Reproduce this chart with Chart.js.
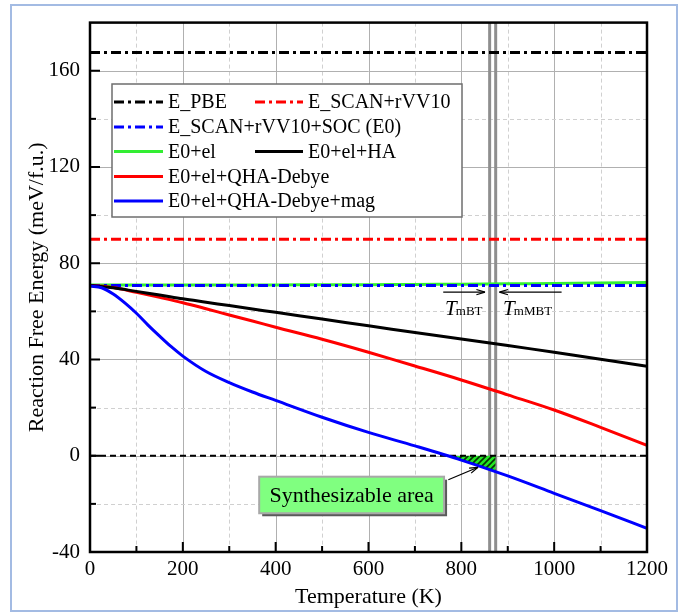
<!DOCTYPE html>
<html><head><meta charset="utf-8">
<script src="https://cdn.jsdelivr.net/npm/chart.js@4/dist/chart.umd.min.js"></script>
<style>html,body{margin:0;padding:0;background:#fff}#wrap{width:695px;height:614px;position:relative}</style>
</head><body><div id="wrap"><canvas id="c" width="695" height="614"></canvas></div>
<script>
// ---- data ----
const temperature = [0,50,100,150,200,250,300,350,400,500,600,700,800,900,1000,1100,1200];
const e0el        = [71.0,71.0,71.0,71.0,71.0,71.0,71.0,71.0,71.0,71.05,71.1,71.2,71.3,71.45,71.6,71.8,72.0];
const e0elHA      = [70.8,69.8,68.3,66.8,65.2,63.8,62.4,61.0,59.6,56.8,54.0,51.2,48.5,45.8,43.0,40.1,37.2];
const e0elQHA     = [70.8,69.9,67.9,65.8,63.6,61.1,58.5,56.0,53.4,48.4,43.0,37.3,31.5,25.3,19.0,11.8,4.3];
const tempMag     = [0,25,50,75,100,125,150,175,200,250,300,350,400,500,600,700,800,900,1000,1100,1200];
const e0elQHAmag  = [70.5,69.8,67.2,63.5,59.2,54.3,49.7,45.3,41.4,35.0,30.4,26.5,23.0,16.0,9.7,4.1,-1.8,-8.4,-15.6,-22.8,-30.2];
const constT      = [0,1200];
const ePBE  = 167.6;
const eSCAN = 90.0;
const eSOC  = 70.7;
const zeroLevel = 0;
const hatchT = [778,800,874];
const hatchE = [0,-1.8,-6.6];
const tmBT = 861, tmMBT = 874;
const legendLabels = ['E_PBE','E_SCAN+rVV10','E_SCAN+rVV10+SOC (E0)','E0+el','E0+el+HA','E0+el+QHA-Debye','E0+el+QHA-Debye+mag'];
const xTitle = 'Temperature (K)';
const yTitle = 'Reaction Free Energy (meV/f.u.)';
const boxText = 'Synthesizable area';

const FONT = "'Liberation Serif','Times New Roman',serif";
const pts = (xs, ys) => xs.map((x,i)=>({x, y: ys[i]}));
const flat = (v) => constT.map(x=>({x, y:v}));

// hatch pattern
const pc = document.createElement('canvas'); pc.width = 6; pc.height = 6;
const pctx = pc.getContext('2d');
pctx.fillStyle = '#22e622'; pctx.fillRect(0,0,6,6);
pctx.strokeStyle = '#063006'; pctx.lineWidth = 1.6;
pctx.beginPath(); pctx.moveTo(-1,7); pctx.lineTo(7,-1); pctx.moveTo(-1,1); pctx.lineTo(1,-1); pctx.moveTo(5,7); pctx.lineTo(7,5); pctx.stroke();
const hatchPattern = pctx.createPattern(pc,'repeat');

const DD = [10,4,3,4];
const datasets = [
  {label:legendLabels[0], data:flat(ePBE), borderColor:'#000', borderWidth:3, borderDash:DD, order:5, tension:0},
  {label:legendLabels[1], data:flat(eSCAN), borderColor:'#ff0000', borderWidth:3, borderDash:DD, order:5, tension:0},
  {label:legendLabels[2], data:flat(eSOC), borderColor:'#0000ff', borderWidth:3, borderDash:DD, order:3, tension:0},
  {label:legendLabels[3], data:pts(temperature,e0el), borderColor:'#33ee33', borderWidth:3, order:4},
  {label:legendLabels[4], data:pts(temperature,e0elHA), borderColor:'#000', borderWidth:3, order:2},
  {label:legendLabels[5], data:pts(temperature,e0elQHA), borderColor:'#ff0000', borderWidth:3, order:2},
  {label:legendLabels[6], data:pts(tempMag,e0elQHAmag), borderColor:'#0000ff', borderWidth:3, order:1, cubicInterpolationMode:'monotone'},
  {label:'zero', data:flat(zeroLevel), borderColor:'#000', borderWidth:2, borderDash:[6,4], order:6, tension:0},
  {label:'hatch', data:pts(hatchT,hatchE), borderColor:'rgba(0,0,0,0)', borderWidth:0, backgroundColor:hatchPattern, fill:'origin', order:7, tension:0},
  {label:'TmBT', data:[{x:tmBT,y:-40},{x:tmBT,y:180}], borderColor:'#8e8e8e', borderWidth:3, order:8, tension:0},
  {label:'TmMBT', data:[{x:tmMBT,y:-40},{x:tmMBT,y:180}], borderColor:'#8e8e8e', borderWidth:3, order:8, tension:0}
];
datasets.forEach(d=>{ d.pointRadius=0; d.pointHoverRadius=0; if(d.fill===undefined) d.fill=false; if(d.tension===undefined) d.tension=0.35; });

function arrow(ctx,x1,y1,x2,y2){
  ctx.beginPath(); ctx.moveTo(x1,y1); ctx.lineTo(x2,y2); ctx.stroke();
  const a = Math.atan2(y2-y1,x2-x1), L=9, s=0.3;
  ctx.beginPath();
  ctx.moveTo(x2,y2); ctx.lineTo(x2-L*Math.cos(a-s), y2-L*Math.sin(a-s));
  ctx.moveTo(x2,y2); ctx.lineTo(x2-L*Math.cos(a+s), y2-L*Math.sin(a+s));
  ctx.stroke();
}

const deco = {
  id:'deco',
  beforeDraw(chart){
    const ctx = chart.ctx;
    ctx.save();
    ctx.fillStyle='#fff'; ctx.fillRect(0,0,chart.width,chart.height);
    ctx.strokeStyle='#a3bbe3'; ctx.lineWidth=2; ctx.strokeRect(11,5,666,606);
    ctx.restore();
  },
  beforeDatasetsDraw(chart){
    const {ctx, chartArea:a, scales:{x,y}} = chart;
    ctx.save(); ctx.lineWidth=1;
    for(let v=100; v<1200; v+=100){
      const px = Math.round(x.getPixelForValue(v))+0.5, major = v%200===0;
      ctx.strokeStyle = major?'#b0b0b0':'#d0d0d0'; ctx.setLineDash(major?[]:[4,3]);
      ctx.beginPath(); ctx.moveTo(px,a.top); ctx.lineTo(px,a.bottom); ctx.stroke();
    }
    for(let v=-20; v<180; v+=20){
      const py = Math.round(y.getPixelForValue(v))+0.5, major = v%40===0;
      ctx.strokeStyle = major?'#b0b0b0':'#d0d0d0'; ctx.setLineDash(major?[]:[4,3]);
      ctx.beginPath(); ctx.moveTo(a.left,py); ctx.lineTo(a.right,py); ctx.stroke();
    }
    ctx.restore();
  },
  afterDatasetsDraw(chart){
    const {ctx, chartArea:a, scales:{x,y}} = chart;
    ctx.save();
    // frame
    ctx.strokeStyle='#000'; ctx.lineWidth=2.5; ctx.setLineDash([]);
    ctx.strokeRect(a.left,a.top,a.right-a.left,a.bottom-a.top);
    // inward ticks
    ctx.lineWidth=2;
    for(let v=100; v<1200; v+=100){
      const px=x.getPixelForValue(v), L = v%200===0?10:6;
      ctx.beginPath(); ctx.moveTo(px,a.bottom); ctx.lineTo(px,a.bottom-L); ctx.stroke();
    }
    for(let v=-20; v<180; v+=20){
      const py=y.getPixelForValue(v), L = v%40===0?10:6;
      ctx.beginPath(); ctx.moveTo(a.left,py); ctx.lineTo(a.left+L,py); ctx.stroke();
    }
    // T arrows and labels
    ctx.lineWidth=1.2;
    const ay = y.getPixelForValue(68);
    arrow(ctx, x.getPixelForValue(761), ay, x.getPixelForValue(851), ay);
    arrow(ctx, x.getPixelForValue(1016), ay, x.getPixelForValue(882), ay);
    ctx.fillStyle='#000'; ctx.textBaseline='alphabetic'; ctx.textAlign='left';
    const by = y.getPixelForValue(58.6);
    [[765,'mBT'],[890,'mMBT']].forEach(([t,sub])=>{
      const px = x.getPixelForValue(t);
      ctx.font = "italic 21px "+FONT; ctx.fillText('T',px,by);
      const w = ctx.measureText('T').width;
      ctx.font = "13px "+FONT; ctx.fillText(sub,px+w-1,by);
    });
    // synthesizable box
    const bx1=x.getPixelForValue(364.5), bx2=x.getPixelForValue(762.8);
    const by1=y.getPixelForValue(-8.7), by2=y.getPixelForValue(-23.9);
    ctx.fillStyle='#5a5a5a'; ctx.fillRect(bx1+3,by1+3,bx2-bx1,by2-by1);
    ctx.fillStyle='#80ff80'; ctx.fillRect(bx1,by1,bx2-bx1,by2-by1);
    ctx.strokeStyle='#a8a8a8'; ctx.lineWidth=2; ctx.strokeRect(bx1,by1,bx2-bx1,by2-by1);
    ctx.fillStyle='#000'; ctx.font="22px "+FONT; ctx.textAlign='center'; ctx.textBaseline='middle';
    ctx.fillText(boxText,(bx1+bx2)/2,(by1+by2)/2+1);
    ctx.strokeStyle='#000'; ctx.lineWidth=1.2;
    arrow(ctx, x.getPixelForValue(772), y.getPixelForValue(-10), x.getPixelForValue(836), y.getPixelForValue(-4.8));
    // legend
    const lx1=112, ly1=84, lx2=462, ly2=217;
    ctx.fillStyle='#fff'; ctx.fillRect(lx1,ly1,lx2-lx1,ly2-ly1);
    ctx.strokeStyle='#6e6e6e'; ctx.lineWidth=1.5; ctx.strokeRect(lx1,ly1,lx2-lx1,ly2-ly1);
    const layout = [[0,0,0],[1,1,0],[2,0,1],[3,0,2],[4,1,2],[5,0,3],[6,0,4]];
    const colX = [[114,163,168],[255,303,308]];
    const rowY = [102,127,151.5,176.5,201];
    ctx.font="20px "+FONT; ctx.textAlign='left'; ctx.textBaseline='middle';
    layout.forEach(([i,c,r])=>{
      const d = chart.data.datasets[i];
      const [x1,x2,tx] = colX[c], yy = rowY[r];
      ctx.strokeStyle=d.borderColor; ctx.lineWidth=3; ctx.setLineDash(d.borderDash||[]);
      ctx.beginPath(); ctx.moveTo(x1,yy); ctx.lineTo(x2,yy); ctx.stroke();
      ctx.setLineDash([]);
      ctx.fillStyle='#000'; ctx.fillText(d.label,tx,yy+1);
    });
    ctx.restore();
  }
};

new Chart(document.getElementById('c'), {
  type:'line',
  data:{datasets},
  plugins:[deco],
  options:{
    responsive:false, animation:false, devicePixelRatio:1,
    layout:{padding:{left:0,right:48,top:19,bottom:0}},
    plugins:{legend:{display:false}, tooltip:{enabled:false}},
    scales:{
      x:{type:'linear', min:0, max:1200,
        ticks:{stepSize:100, maxTicksLimit:100, autoSkip:false, maxRotation:0, padding:5, color:'#000',
          font:{family:FONT,size:21}, callback:(v)=> v%200===0 ? String(v) : ''},
        grid:{display:false, drawTicks:false}, border:{display:false},
        title:{display:true, text:xTitle, color:'#000', font:{family:FONT,size:22}, padding:{top:0,bottom:4}},
        afterFit(s){ s.height = 62; }
      },
      y:{type:'linear', min:-40, max:180,
        ticks:{stepSize:20, maxTicksLimit:100, autoSkip:false, padding:10, color:'#000',
          font:{family:FONT,size:21}, callback:(v)=> (v%40===0 && v<180) ? String(v) : ''},
        grid:{display:false, drawTicks:false}, border:{display:false},
        title:{display:true, text:yTitle, color:'#000', font:{family:FONT,size:22}, padding:{top:24,bottom:0}},
        afterFit(s){ s.width = 90; }
      }
    }
  }
});
</script></body></html>
